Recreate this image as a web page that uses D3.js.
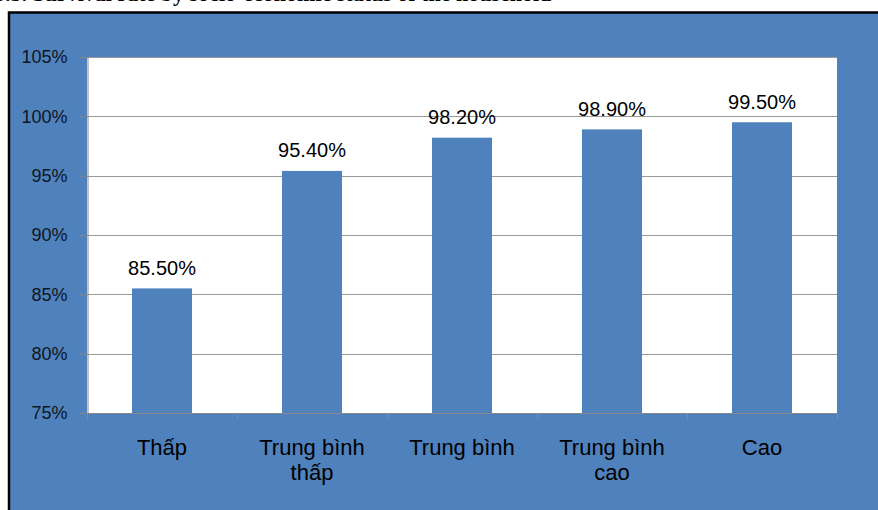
<!DOCTYPE html>
<html>
<head>
<meta charset="utf-8">
<script src="https://cdn.jsdelivr.net/npm/d3@7"></script>
<style>
  html, body { margin: 0; padding: 0; background: #ffffff; }
  svg { display: block; }
</style>
</head>
<body>
<svg id="chart" width="878" height="510"></svg>
<script>
// Survival rate by socio-economic level
const categories = [["Thấp"], ["Trung bình", "thấp"], ["Trung bình"], ["Trung bình", "cao"], ["Cao"]];
const rates = [85.5, 95.4, 98.2, 98.9, 99.5];
const valueLabels = ["85.50%", "95.40%", "98.20%", "98.90%", "99.50%"];
const yTicks = [75, 80, 85, 90, 95, 100, 105];
const titleText = "3.5. Survival rate by socio-economic status of the household";

const W = 878, H = 510;
const blue = "#4F81BD";
const svg = d3.select("#chart");

// heading, sitting above the top edge of the page
svg.append("text")
  .attr("x", -6).attr("y", 1)
  .attr("font-family", "'Liberation Serif', 'Times New Roman', serif")
  .attr("font-weight", "bold")
  .attr("font-size", 22)
  .attr("fill", "#000")
  .text(titleText);

// chart frame
svg.append("rect")
  .attr("x", 9).attr("y", 12.5)
  .attr("width", W + 20).attr("height", H)
  .attr("fill", blue)
  .attr("stroke", "#000").attr("stroke-width", 2.5);

const plot = { left: 87, right: 837, top: 57, bottom: 413 };

const x = d3.scaleBand()
  .domain(d3.range(categories.length))
  .range([plot.left, plot.right])
  .paddingInner(0.6)
  .paddingOuter(0.3);

const y = d3.scaleLinear()
  .domain([75, 105])
  .range([plot.bottom, plot.top]);

// plot background
svg.append("rect")
  .attr("x", plot.left).attr("y", plot.top)
  .attr("width", plot.right - plot.left).attr("height", plot.bottom - plot.top)
  .attr("fill", "#fff");

// gridlines
svg.append("g")
  .selectAll("line")
  .data(yTicks.filter(t => t > 75))
  .join("line")
  .attr("x1", plot.left).attr("x2", plot.right)
  .attr("y1", d => Math.round(y(d)) + 0.5).attr("y2", d => Math.round(y(d)) + 0.5)
  .attr("stroke", "#9a9a9a").attr("stroke-width", 1);

// bars
svg.append("g")
  .selectAll("rect")
  .data(rates)
  .join("rect")
  .attr("x", (d, i) => x(i))
  .attr("width", x.bandwidth())
  .attr("y", d => y(d))
  .attr("height", d => y(75) - y(d))
  .attr("fill", blue);

// value labels
svg.append("g")
  .selectAll("text")
  .data(rates)
  .join("text")
  .attr("x", (d, i) => x(i) + x.bandwidth() / 2)
  .attr("y", d => y(d) - 13.5)
  .attr("text-anchor", "middle")
  .attr("font-family", "'Liberation Sans', Arial, sans-serif")
  .attr("font-size", 20)
  .attr("fill", "#000")
  .text((d, i) => valueLabels[i]);

// y axis
const yAxis = d3.axisLeft(y)
  .tickValues(yTicks)
  .tickSize(8)
  .tickPadding(12)
  .tickFormat(d => d + "%");
const gy = svg.append("g")
  .attr("transform", `translate(${plot.left + 0.5},0)`)
  .call(yAxis);
gy.select(".domain").attr("stroke", "#888");
gy.selectAll(".tick line").attr("stroke", "#888");
gy.selectAll(".tick text")
  .attr("font-family", "'Liberation Sans', Arial, sans-serif")
  .attr("font-size", 18)
  .attr("fill", "#0e1622");

// x axis line with ticks at category boundaries
const step = x.step();
const bounds = d3.range(categories.length + 1).map(i => plot.left + i * step);
svg.append("line")
  .attr("x1", plot.left).attr("x2", plot.right)
  .attr("y1", plot.bottom + 0.5).attr("y2", plot.bottom + 0.5)
  .attr("stroke", "#888");
svg.append("g")
  .selectAll("line")
  .data(bounds)
  .join("line")
  .attr("x1", d => Math.round(d) + 0.5).attr("x2", d => Math.round(d) + 0.5)
  .attr("y1", plot.bottom).attr("y2", plot.bottom + 6)
  .attr("stroke", "#888");

// category labels
const cat = svg.append("g")
  .selectAll("text")
  .data(categories)
  .join("text")
  .attr("x", (d, i) => x(i) + x.bandwidth() / 2)
  .attr("y", 455)
  .attr("text-anchor", "middle")
  .attr("font-family", "'Liberation Sans', Arial, sans-serif")
  .attr("font-size", 22)
  .attr("fill", "#000");
cat.each(function(lines, i) {
  const t = d3.select(this);
  lines.forEach((ln, k) => {
    t.append("tspan")
      .attr("x", x(i) + x.bandwidth() / 2)
      .attr("dy", k === 0 ? 0 : 25)
      .text(ln);
  });
});
</script>
</body>
</html>
